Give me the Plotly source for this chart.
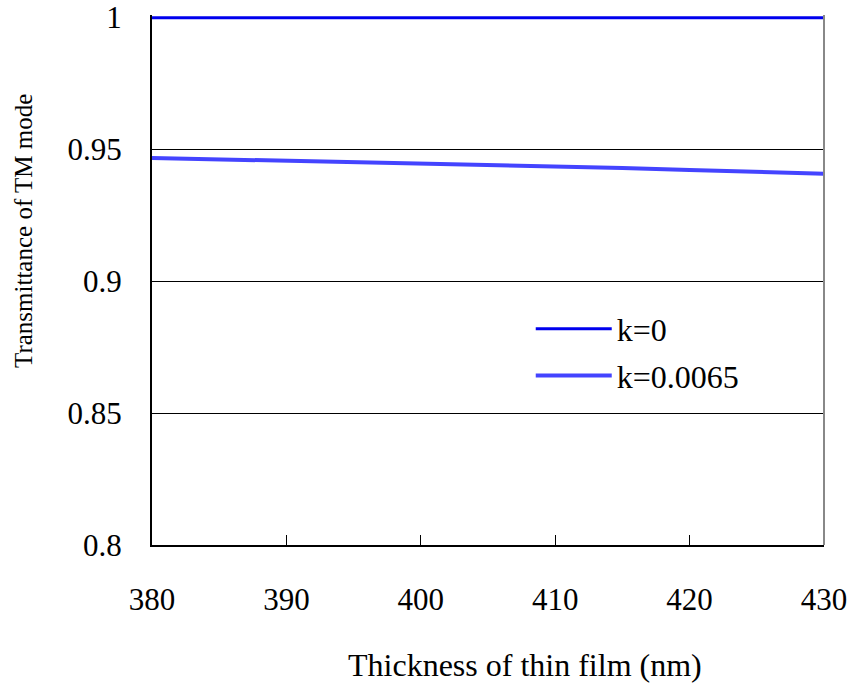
import plotly.graph_objects as go

thickness = [380, 385, 390, 395, 400, 405, 410, 415, 420, 425, 430]
t_k0 = [1.0, 1.0, 1.0, 1.0, 1.0, 1.0, 1.0, 1.0, 1.0, 1.0, 1.0]
t_k0065 = [0.9468, 0.9463, 0.9457, 0.9451, 0.9446, 0.9441, 0.9436, 0.9430, 0.9422, 0.9414, 0.9408]
series_names = ["k=0", "k=0.0065"]
x_ticks = [380, 390, 400, 410, 420, 430]
y_ticks = [0.8, 0.85, 0.9, 0.95, 1.0]
y_ticktext = ["0.8", "0.85", "0.9", "0.95", "1"]

FONT = "Liberation Serif"

fig = go.Figure()
fig.add_trace(go.Scatter(x=thickness, y=t_k0, mode="lines", name=series_names[0],
                         legendgroup="a",
                         line=dict(color="#0000EE", width=3)))
fig.add_trace(go.Scatter(x=thickness, y=t_k0065, mode="lines", name=series_names[1],
                         legendgroup="b",
                         line=dict(color="#4444FF", width=4)))

fig.update_layout(
    width=851, height=684,
    margin=dict(l=152, r=27, t=15, b=139, autoexpand=False),
    paper_bgcolor="white", plot_bgcolor="white",
    font=dict(family=FONT, color="black", size=31),
    showlegend=True,
    legend=dict(x=0.5636, y=0.4593, xanchor="left", yanchor="top",
                bgcolor="rgba(0,0,0,0)", itemwidth=76,
                font=dict(family=FONT, size=32, color="black"),
                tracegroupgap=2),
    xaxis=dict(range=[380, 430], tickvals=x_ticks, ticktext=[str(v) for v in x_ticks],
               showline=True, linecolor="black", linewidth=2,
               ticks="inside", ticklen=10, tickcolor="black", tickwidth=1,
               showgrid=False, zeroline=False, ticklabelstandoff=26,
               automargin=False,
               tickfont=dict(family=FONT, size=31)),
    yaxis=dict(range=[0.8, 1.001], tickvals=y_ticks, ticktext=y_ticktext,
               showline=True, linecolor="black", linewidth=2,
               ticks="", showgrid=True, gridcolor="black", gridwidth=1,
               zeroline=False, ticklabelstandoff=22, automargin=False,
               tickfont=dict(family=FONT, size=31)),
    shapes=[dict(type="line", xref="paper", yref="paper", x0=1, x1=1, y0=0, y1=1,
                 line=dict(color="#888888", width=2))],
    annotations=[
        dict(text="Thickness of thin film (nm)", xref="paper", yref="paper",
             x=0.555, y=-0.2264, xanchor="center", yanchor="middle", showarrow=False,
             font=dict(family=FONT, size=32)),
        dict(text="Transmittance of TM mode", xref="paper", yref="paper",
             x=-0.1905, y=0.5925, xanchor="center", yanchor="middle", showarrow=False,
             textangle=-90, font=dict(family=FONT, size=25)),
    ],
)

fig.write_html("out.html")
